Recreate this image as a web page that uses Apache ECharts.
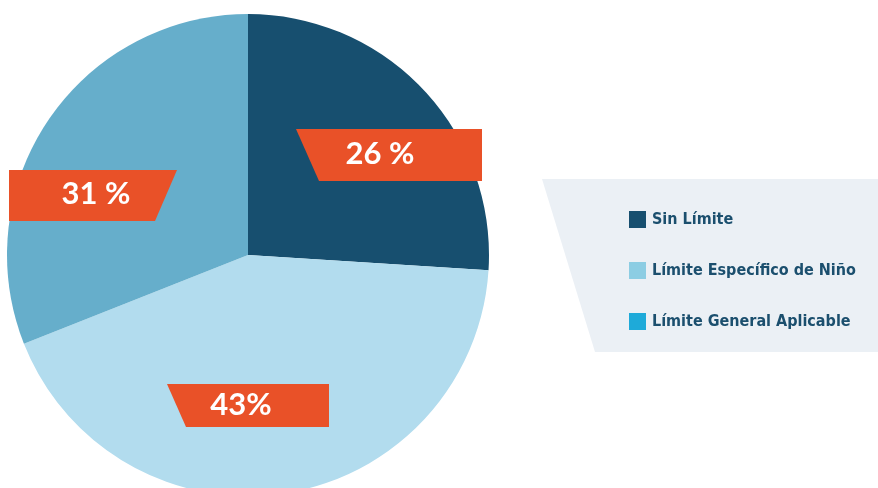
<!DOCTYPE html>
<html><head><meta charset="utf-8">
<script src="https://cdn.jsdelivr.net/npm/echarts@6/dist/echarts.min.js"></script>
<style>html,body{margin:0;padding:0;background:#fff}#c{width:878px;height:488px}</style>
</head><body><div id="c"></div>
<script>
const categories = ['Sin Límite', 'Límite Específico de Niño', 'Límite General Aplicable'];
const values = [26, 43, 31, 0];
const sliceNames = ['Sin Límite', 'Límite Específico de Niño', 'medio', 'Límite General Aplicable'];
const sliceColors = ['#174f6f', '#b2dcee', '#66aecb', '#1eaad9'];
const legendColors = {'Sin Límite':'#174f6f','Límite Específico de Niño':'#8ccde3','Límite General Aplicable':'#1eaad9'};
const labelTexts = ['26 %', '43%', '31 %'];

const chart = echarts.init(document.getElementById('c'), null, {renderer:'canvas'});
const orange = '#e95128';
const labelFont = 'bold 31px Lato, "Noto Sans", sans-serif';
chart.setOption({
  animation:false,
  legend:{
    data: categories.map(n=>({name:n, itemStyle:{color:legendColors[n]}})),
    orient:'vertical', left:624, top:206, itemWidth:17, itemHeight:17, itemGap:34,
    icon:'rect', selectedMode:false,
    textStyle:{color:'#1b4f6e', fontSize:16, fontWeight:'bold', fontFamily:'"Liberation Sans Narrow", "DejaVu Sans Condensed", sans-serif', padding:[0,0,0,1]}
  },
  graphic:[
    {type:'polygon', z:-1, shape:{points:[[542,179],[878,179],[878,352],[595,352]]}, style:{fill:'#ebf0f5'}},
    {type:'polygon', z:10, shape:{points:[[296,129],[482,129],[482,181],[319,181]]}, style:{fill:orange}},
    {type:'text', z:11, x:380, y:154, style:{text:labelTexts[0], fill:'#fff', font:labelFont, align:'center', verticalAlign:'middle'}},
    {type:'polygon', z:10, shape:{points:[[167,384],[329,384],[329,427],[186,427]]}, style:{fill:orange}},
    {type:'text', z:11, x:241, y:405, style:{text:labelTexts[1], fill:'#fff', font:labelFont, align:'center', verticalAlign:'middle'}},
    {type:'polygon', z:10, shape:{points:[[9,170],[177,170],[155,221],[9,221]]}, style:{fill:orange}},
    {type:'text', z:11, x:96, y:194, style:{text:labelTexts[2], fill:'#fff', font:labelFont, align:'center', verticalAlign:'middle'}}
  ],
  series:[{
    type:'pie', center:[248,255], radius:241, startAngle:90, clockwise:true,
    label:{show:false}, labelLine:{show:false}, emphasis:{disabled:true}, silent:true,
    itemStyle:{borderWidth:0},
    data: values.map((v,i)=>({name:sliceNames[i], value:v, itemStyle:{color:sliceColors[i]}}))
  }]
});
</script></body></html>
